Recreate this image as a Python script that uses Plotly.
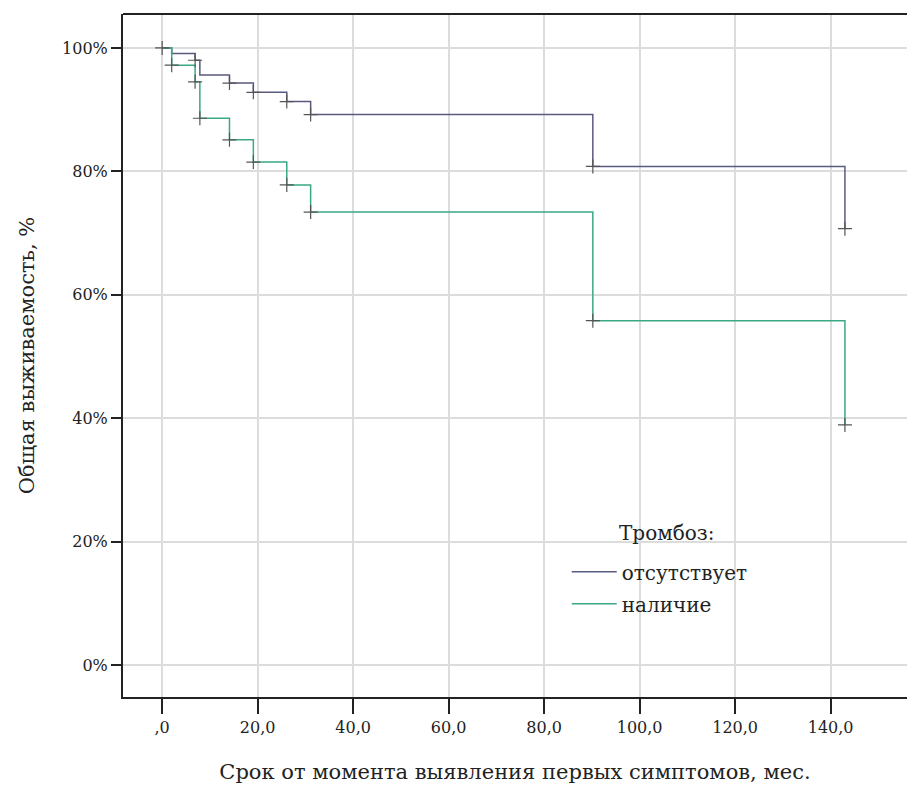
import plotly.graph_objects as go

# Kaplan-Meier step data (time in months, survival in %)
t_absent = [0, 2.0, 6.9, 7.9, 14.1, 19.1, 26.1, 31.1, 90.2, 143.0]
s_absent = [100, 99.1, 98.0, 95.6, 94.3, 92.8, 91.3, 89.2, 80.8, 70.7]
t_present = [0, 2.0, 6.9, 7.9, 14.1, 19.1, 26.1, 31.1, 90.2, 143.0]
s_present = [100, 97.2, 94.5, 88.6, 85.1, 81.5, 77.8, 73.4, 55.8, 38.9]

# censored observations
c_absent_t = [0, 6.9, 14.1, 19.1, 26.1, 31.1, 90.2, 143.0]
c_absent_s = [100, 98.0, 94.3, 92.8, 91.3, 89.2, 80.8, 70.7]
c_present_t = [2.0, 6.9, 7.9, 14.1, 19.1, 26.1, 31.1, 90.2, 143.0]
c_present_s = [97.2, 94.5, 88.6, 85.1, 81.5, 77.8, 73.4, 55.8, 38.9]

x_ticks = [0, 20, 40, 60, 80, 100, 120, 140]
x_ticktext = [",0", "20,0", "40,0", "60,0", "80,0", "100,0", "120,0", "140,0"]
y_ticks = [0, 20, 40, 60, 80, 100]
y_ticktext = ["0%", "20%", "40%", "60%", "80%", "100%"]

names = ["отсутствует", "наличие"]
colors = ["#5a5a80", "#3aa887"]

FONT = "DejaVu Serif, Liberation Serif, serif"

fig = go.Figure()
fig.add_trace(go.Scatter(x=t_absent, y=s_absent, mode="lines", line_shape="hv",
                         line=dict(color=colors[0], width=1.5), name=names[0],
                         legendgroup="a"))
fig.add_trace(go.Scatter(x=t_present, y=s_present, mode="lines", line_shape="hv",
                         line=dict(color=colors[1], width=1.5), name=names[1],
                         legendgroup="b"))
fig.add_trace(go.Scatter(x=c_absent_t, y=c_absent_s, mode="markers", showlegend=False,
                         marker=dict(symbol="cross-thin", size=10,
                                     line=dict(color="#555555", width=1.2))))
fig.add_trace(go.Scatter(x=c_present_t, y=c_present_s, mode="markers", showlegend=False,
                         marker=dict(symbol="cross-thin", size=10,
                                     line=dict(color="#555555", width=1.2))))

fig.update_layout(
    width=907, height=787,
    margin=dict(l=123, r=0, t=14, b=90),
    paper_bgcolor="white", plot_bgcolor="white",
    font=dict(family=FONT, size=16, color="#222222"),
    xaxis=dict(range=[-8.2, 156], tickvals=x_ticks, ticktext=x_ticktext,
               showgrid=True, gridcolor="#dcdcdc", gridwidth=1.5,
               showline=True, linecolor="#222222", linewidth=2,
               ticks="outside", ticklen=15, tickwidth=1.5, tickcolor="#222222",
               zeroline=False,
               title=dict(text="Срок от момента выявления первых симптомов, мес.",
                          font=dict(size=21), standoff=28)),
    yaxis=dict(range=[-5.2, 105.5], tickvals=y_ticks, ticktext=y_ticktext,
               showgrid=True, gridcolor="#dcdcdc", gridwidth=1.5,
               showline=True, linecolor="#222222", linewidth=2,
               ticks="outside", ticklen=10, tickwidth=1.5, tickcolor="#222222",
               zeroline=False,
               title=dict(text="Общая выживаемость, %", font=dict(size=21), standoff=22)),
    legend=dict(x=0.566, y=0.212, xanchor="left", yanchor="top",
                bgcolor="rgba(0,0,0,0)", traceorder="grouped", itemwidth=45,
                font=dict(size=20), tracegroupgap=3),
    annotations=[dict(text="Тромбоз:", xref="paper", yref="paper",
                      x=(666 - 123) / 784, y=(697 - 533) / 683,
                      xanchor="center", yanchor="middle", showarrow=False,
                      font=dict(size=20))],
    shapes=[dict(type="line", xref="paper", yref="paper", x0=0, x1=1, y0=1, y1=1,
                 line=dict(color="#222222", width=2))],
)

fig.write_html("out.html")
